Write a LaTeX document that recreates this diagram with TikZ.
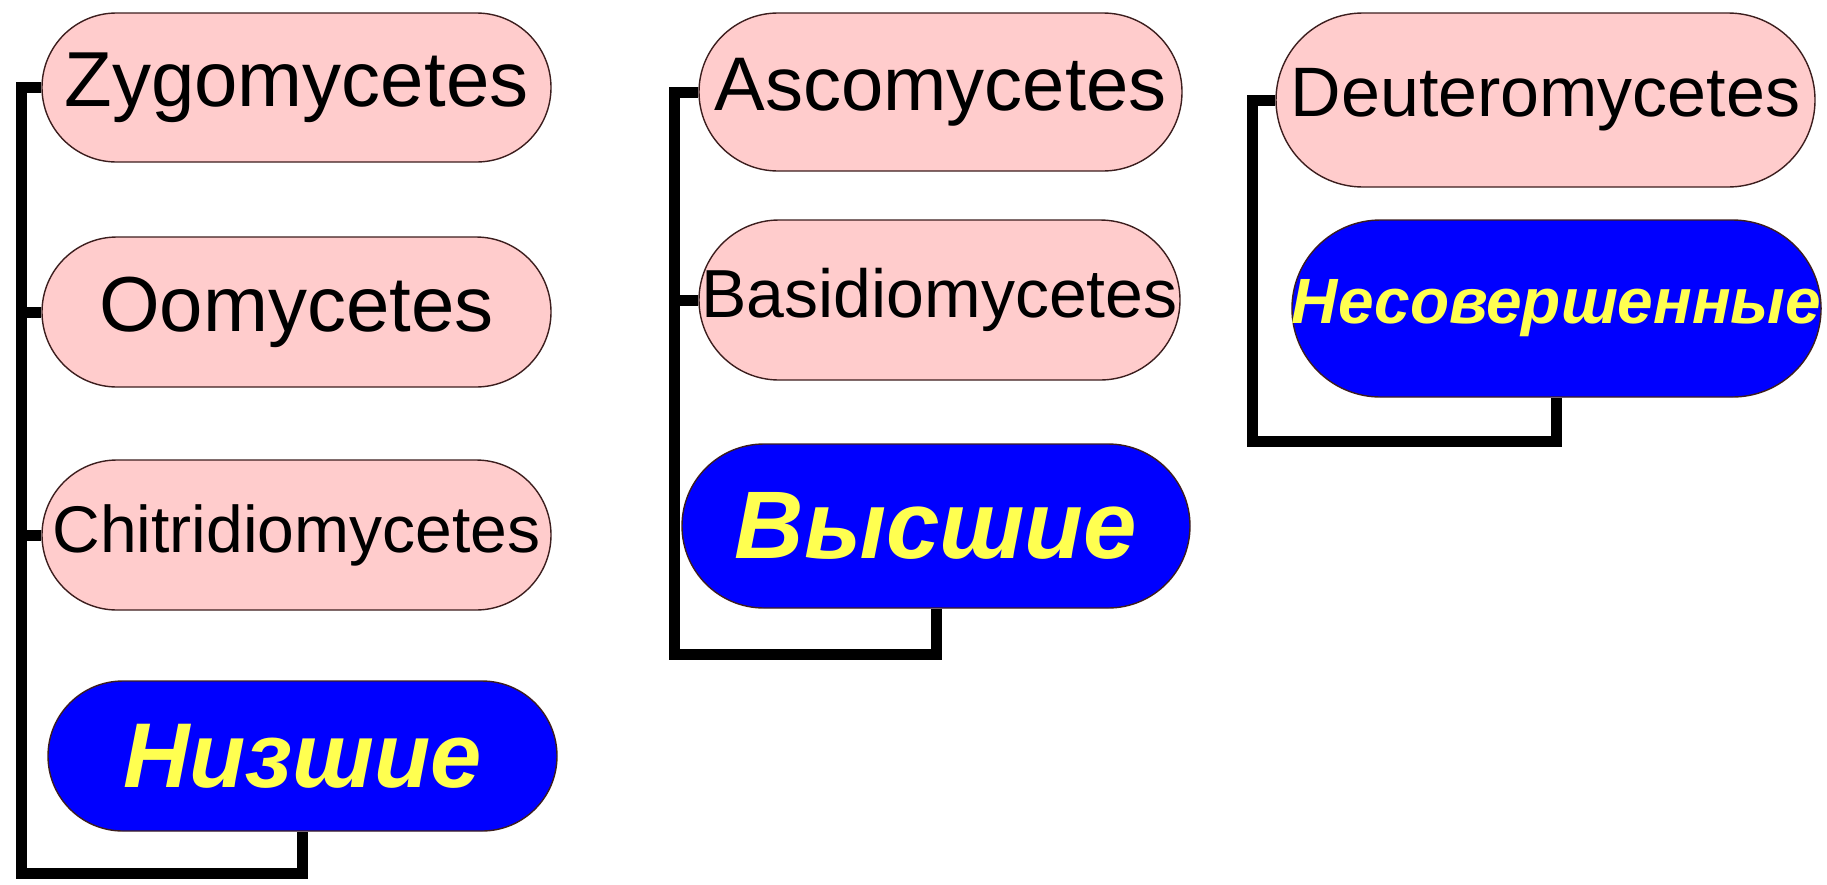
\documentclass[tikz,border=0pt]{standalone}
\usepackage{fontspec}
\setmainfont{Liberation Sans}
\definecolor{pinkfill}{RGB}{255,204,204}
\definecolor{bluefill}{RGB}{0,0,255}
\definecolor{yellowtxt}{RGB}{255,255,80}
\definecolor{edge}{RGB}{60,30,30}
\tikzset{
  pill/.style={draw=edge, line width=1.4pt, inner sep=0pt},
  pinkpill/.style={pill, fill=pinkfill, text=black},
  bluepill/.style={pill, fill=bluefill, text=yellowtxt, font=\bfseries\itshape},
  conn/.style={line width=11pt, line join=miter, line cap=butt, draw=black}
}
\newcommand{\fs}[1]{\fontsize{#1}{#1}\selectfont}
\begin{document}
\begin{tikzpicture}[x=1pt,y=-1pt]
\useasboundingbox (0,0) rectangle (1827,884);
% column 1
\node[pinkpill, minimum width=509pt, minimum height=149pt, rounded corners=74.5pt] (zygo) at (296.5,87.5) {\fs{78}Zygomycetes};
\node[pinkpill, minimum width=509pt, minimum height=150pt, rounded corners=75pt] (oomy) at (296.5,312) {\fs{78}Oomycetes};
\node[pinkpill, minimum width=509pt, minimum height=150pt, rounded corners=75pt] (chit) at (296.5,535) {\fs{66}Chitridiomycetes};
\node[bluepill, minimum width=509pt, minimum height=150pt, rounded corners=75pt] (niz) at (302.5,756) {\fs{92}\bfseries\itshape Низшие};
\coordinate (c1b) at (21,873);
\draw[conn] (zygo.west) -| (c1b) -| (niz.south);
\draw[conn] (oomy.west) -- (oomy.west -| c1b);
\draw[conn] (chit.west) -- (chit.west -| c1b);
% column 2
\node[pinkpill, minimum width=483pt, minimum height=158pt, rounded corners=79pt] (asco) at (940.5,92) {\fs{76}Ascomycetes};
\node[pinkpill, minimum width=481pt, minimum height=160pt, rounded corners=80pt] (basid) at (939.5,300) {\fs{68}Basidiomycetes};
\node[bluepill, minimum width=508pt, minimum height=164pt, rounded corners=82pt] (vys) at (936,526) {\fs{96}\bfseries\itshape Высшие};
\coordinate (c2b) at (674,654);
\draw[conn] (asco.west) -| (c2b) -| (vys.south);
\draw[conn] (basid.west) -- (basid.west -| c2b);
% column 3
\node[pinkpill, minimum width=539pt, minimum height=174pt, rounded corners=87pt] (deut) at (1545.5,100) {\fs{70}Deuteromycetes};
\node[bluepill, minimum width=527pt, minimum height=177pt, rounded corners=88.5pt] (nesov) at (1556.5,308.5) {\fs{64}\bfseries\itshape Несовершенные};
\coordinate (c3b) at (1252,441);
\draw[conn] (deut.west) -| (c3b) -| (nesov.south);
\end{tikzpicture}
\end{document}
